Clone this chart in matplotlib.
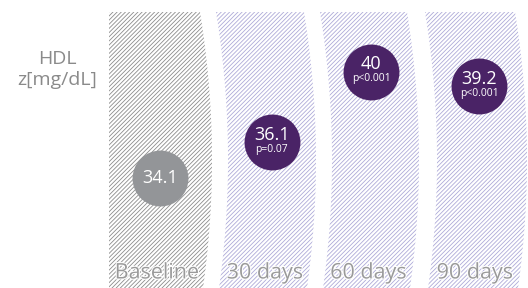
import numpy as np
import matplotlib.pyplot as plt
import matplotlib.patheffects as pe

# Data
periods = ['Baseline', '30 days', '60 days', '90 days']
hdl = [34.1, 36.1, 40.0, 39.2]
pvals = ['', 'p=0.07', 'p<0.001', 'p<0.001']

plt.rcParams['font.family'] = ['Open Sans', 'DejaVu Sans']
plt.rcParams['hatch.linewidth'] = 0.6

W, H = 528, 288
ymin, ymax = 27.99, 43.99

fig = plt.figure(figsize=(W / 100, H / 100), dpi=100)
ax = fig.add_axes([0, 0, 1, 1])
ax.set_xlim(0, W)
ax.set_ylim(ymin, ymax)
ax.axis('off')


def to_px(v):
    return H * (ymax - v) / (ymax - ymin)


def px_to_val(y):
    return ymax - y * (ymax - ymin) / H


def bulge(v):
    # chevron offset (pixels) at value v
    y = to_px(v)
    return 12 * (1 - ((y - 160) / 148) ** 2)


left0 = [109, 216, 320, 425]
widths = [91, 88, 87, 90]
top_val = px_to_val(12)
unit = (ymax - ymin) / H  # one pixel in data units

ys = np.linspace(ymin, top_val, 80)
for i, name in enumerate(periods):
    off = bulge(ys)
    left = np.full_like(ys, left0[i]) if i == 0 else left0[i] + off
    right = left0[i] + widths[i] + off
    xs = np.concatenate([left, right[::-1]])
    yy = np.concatenate([ys, ys[::-1]])
    col = '#8c8c8c' if i == 0 else '#aeaad8'
    ax.fill(xs, yy, facecolor='white', edgecolor=col, hatch='////////', linewidth=0)

    # circle in middle of the column at the value height
    v = hdl[i]
    lx = left0[i] if i == 0 else left0[i] + bulge(v)
    cx = (lx + left0[i] + widths[i] + bulge(v)) / 2
    ccol = '#939598' if i == 0 else '#4a2366'
    ax.scatter([cx], [v], s=1620, color=ccol, zorder=3, linewidths=0)
    if pvals[i]:
        ax.text(cx, v + 7.5 * unit, f'{v:g}', color='white', fontsize=13,
                ha='center', va='center', zorder=4)
        ax.text(cx, v - 7 * unit, pvals[i], color='white',
                fontsize=7.5, ha='center', va='center', zorder=4)
    else:
        ax.text(cx, v, f'{v:g}', color='white', fontsize=13,
                ha='center', va='center', zorder=4)

    # period label at the bottom
    lv = px_to_val(273)
    lx = left0[i] if i == 0 else left0[i] + bulge(lv)
    bx = (lx + left0[i] + widths[i] + bulge(lv)) / 2
    ax.text(bx, lv, name, color='#9a9a9a', fontsize=15.5, ha='center',
            va='center', zorder=4,
            path_effects=[pe.withStroke(linewidth=1.5, foreground='white')])

ax.text(57, px_to_val(59), 'HDL', color='#8a8a8a',
        fontsize=14, ha='center', va='center')
ax.text(57, px_to_val(80), 'z[mg/dL]', color='#8a8a8a',
        fontsize=14, ha='center', va='center')

fig.savefig('out.png', dpi=100)
